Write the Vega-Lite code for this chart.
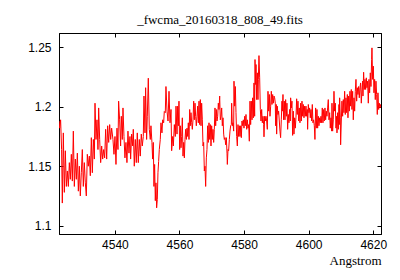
{
"$schema": "https://vega.github.io/schema/vega-lite/v6.json",
"width": 322, "height": 201,
"autosize": {"type": "none"},
"padding": {"left": 59, "top": 33, "right": 19, "bottom": 46},
"background": "white",
"title": {"text": "_fwcma_20160318_808_49.fits", "font": "Liberation Serif", "fontSize": 13, "fontWeight": "normal", "color": "black", "offset": 6},
"config": {
  "view": {"stroke": "black", "strokeWidth": 1},
  "axis": {"grid": false, "domainColor": "black", "domainWidth": 1, "tickColor": "black", "tickWidth": 1, "tickSize": -4, "labelColor": "black", "labelFont": "Liberation Sans", "labelFontSize": 12, "titleFont": "Liberation Serif", "titleFontSize": 13, "titleFontWeight": "normal", "titleColor": "black"}
},
"data": {"values": [
{"w":4522.7,"f":1.188},{"w":4522.9,"f":1.182},{"w":4523.2,"f":1.189},{"w":4523.5,"f":1.164},{"w":4523.73,"f":1.119},{"w":4524.04,"f":1.178},{"w":4524.35,"f":1.128},{"w":4524.66,"f":1.163},{"w":4524.97,"f":1.133},{"w":4525.28,"f":1.146},{"w":4525.59,"f":1.133},{"w":4525.9,"f":1.153},{"w":4526.21,"f":1.139},{"w":4526.52,"f":1.16},{"w":4526.83,"f":1.1375},{"w":4527.14,"f":1.1795},{"w":4527.45,"f":1.133},{"w":4527.76,"f":1.156},{"w":4528.07,"f":1.139},{"w":4528.38,"f":1.161},{"w":4528.69,"f":1.129},{"w":4529.0,"f":1.15},{"w":4529.3,"f":1.125},{"w":4529.61,"f":1.1445},{"w":4529.92,"f":1.164},{"w":4530.23,"f":1.133},{"w":4530.54,"f":1.153},{"w":4530.85,"f":1.136},{"w":4531.16,"f":1.125},{"w":4531.47,"f":1.16},{"w":4531.78,"f":1.15},{"w":4532.09,"f":1.1585},{"w":4532.4,"f":1.142},{"w":4532.71,"f":1.174},{"w":4533.02,"f":1.1445},{"w":4533.33,"f":1.1725},{"w":4533.64,"f":1.156},{"w":4533.85,"f":1.203},{"w":4534.16,"f":1.1725},{"w":4534.46,"f":1.189},{"w":4534.77,"f":1.164},{"w":4534.98,"f":1.199},{"w":4535.29,"f":1.1725},{"w":4535.6,"f":1.153},{"w":4535.91,"f":1.167},{"w":4536.22,"f":1.156},{"w":4536.53,"f":1.164},{"w":4536.84,"f":1.157},{"w":4537.15,"f":1.181},{"w":4537.46,"f":1.156},{"w":4537.77,"f":1.184},{"w":4538.08,"f":1.17},{"w":4538.39,"f":1.185},{"w":4538.7,"f":1.1725},{"w":4539.0,"f":1.182},
{"w":4539.41,"f":1.1725},{"w":4539.72,"f":1.16},{"w":4540.03,"f":1.175},{"w":4540.34,"f":1.1515},{"w":4540.65,"f":1.182},{"w":4540.96,"f":1.164},{"w":4541.16,"f":1.2047},{"w":4541.47,"f":1.189},{"w":4541.78,"f":1.167},{"w":4541.99,"f":1.192},{"w":4542.3,"f":1.1725},{"w":4542.51,"f":1.199},{"w":4542.82,"f":1.175},{"w":4543.12,"f":1.157},{"w":4543.43,"f":1.17},{"w":4543.74,"f":1.153},{"w":4544.05,"f":1.1795},{"w":4544.36,"f":1.161},{"w":4544.67,"f":1.175},{"w":4544.88,"f":1.156},{"w":4545.19,"f":1.177},{"w":4545.5,"f":1.167},{"w":4545.7,"f":1.181},{"w":4546.01,"f":1.15},{"w":4546.32,"f":1.1725},{"w":4546.63,"f":1.153},{"w":4546.94,"f":1.178},{"w":4547.25,"f":1.153},{"w":4547.56,"f":1.1725},{"w":4547.87,"f":1.1585},{"w":4548.18,"f":1.177},{"w":4548.49,"f":1.167},{"w":4548.8,"f":1.175},{"w":4549.01,"f":1.209},{"w":4549.32,"f":1.178},{"w":4549.52,"f":1.216},{"w":4549.83,"f":1.1725},{"w":4550.04,"f":1.192},{"w":4550.35,"f":1.224},{"w":4550.66,"f":1.181},{"w":4550.97,"f":1.1725},{"w":4551.17,"f":1.184},{"w":4551.48,"f":1.17},{"w":4551.69,"f":1.156},{"w":4551.9,"f":1.17},{"w":4552.1,"f":1.133},{"w":4552.31,"f":1.1515},{"w":4552.52,"f":1.121},{"w":4552.72,"f":1.136},{"w":4552.93,"f":1.115},{"w":4553.14,"f":1.122},{"w":4553.34,"f":1.1445},{"w":4553.55,"f":1.154},{"w":4553.75,"f":1.164},{"w":4554.06,"f":1.1725},{"w":4554.27,"f":1.1865},{"w":4554.58,"f":1.178},{"w":4554.79,"f":1.189},{"w":4555.1,"f":1.1865},{"w":4555.3,"f":1.196},{"w":4555.61,"f":1.195},{"w":4555.82,"f":1.217},
{"w":4556.14,"f":1.1963},{"w":4556.45,"f":1.188},{"w":4556.76,"f":1.213},{"w":4557.07,"f":1.1865},{"w":4557.38,"f":1.1977},{"w":4557.58,"f":1.163},{"w":4557.89,"f":1.175},{"w":4558.1,"f":1.167},{"w":4558.41,"f":1.185},{"w":4558.72,"f":1.175},{"w":4558.93,"f":1.2005},{"w":4559.24,"f":1.177},{"w":4559.44,"f":1.2005},{"w":4559.65,"f":1.184},{"w":4559.85,"f":1.2047},{"w":4560.06,"f":1.164},{"w":4560.27,"f":1.184},{"w":4560.47,"f":1.1655},{"w":4560.68,"f":1.175},{"w":4560.89,"f":1.1907},{"w":4561.09,"f":1.1585},{"w":4561.3,"f":1.17},{"w":4561.51,"f":1.157},{"w":4561.71,"f":1.1725},{"w":4561.92,"f":1.181},{"w":4562.13,"f":1.1725},{"w":4562.33,"f":1.182},{"w":4562.54,"f":1.175},{"w":4562.74,"f":1.1865},{"w":4562.95,"f":1.1725},{"w":4563.16,"f":1.1977},{"w":4563.36,"f":1.184},{"w":4563.57,"f":1.195},{"w":4563.78,"f":1.1865},{"w":4563.98,"f":1.181},{"w":4564.19,"f":1.189},{"w":4564.4,"f":1.2047},{"w":4564.6,"f":1.189},{"w":4564.81,"f":1.203},{"w":4565.01,"f":1.192},{"w":4565.22,"f":1.184},{"w":4565.43,"f":1.192},{"w":4565.63,"f":1.2005},{"w":4565.84,"f":1.1865},{"w":4566.05,"f":1.2047},{"w":4566.25,"f":1.185},{"w":4566.46,"f":1.206},{"w":4566.67,"f":1.184},{"w":4566.87,"f":1.203},{"w":4567.08,"f":1.189},{"w":4567.29,"f":1.167},{"w":4567.49,"f":1.17},{"w":4567.7,"f":1.146},{"w":4567.9,"f":1.15},{"w":4568.11,"f":1.133},{"w":4568.32,"f":1.157},{"w":4568.52,"f":1.164},{"w":4568.73,"f":1.184},{"w":4568.94,"f":1.17},{"w":4569.14,"f":1.1865},{"w":4569.35,"f":1.1725},{"w":4569.56,"f":1.185},{"w":4569.76,"f":1.167},{"w":4569.97,"f":1.184},{"w":4570.17,"f":1.1725},{"w":4570.38,"f":1.181},{"w":4570.59,"f":1.17},{"w":4570.79,"f":1.181},{"w":4571.0,"f":1.199},{"w":4571.21,"f":1.184},{"w":4571.41,"f":1.1977},{"w":4571.62,"f":1.188},{"w":4571.83,"f":1.192},{"w":4572.03,"f":1.203},{"w":4572.24,"f":1.1977},{"w":4572.45,"f":1.209},{"w":4572.65,"f":1.189},
{"w":4572.86,"f":1.192},{"w":4573.07,"f":1.199},{"w":4573.27,"f":1.184},{"w":4573.48,"f":1.1907},{"w":4573.69,"f":1.177},{"w":4573.89,"f":1.1725},{"w":4574.1,"f":1.174},{"w":4574.3,"f":1.168},{"w":4574.51,"f":1.174},{"w":4574.72,"f":1.161},{"w":4574.82,"f":1.1515},{"w":4575.03,"f":1.164},{"w":4575.23,"f":1.163},{"w":4575.44,"f":1.1725},{"w":4575.65,"f":1.1795},{"w":4575.85,"f":1.184},{"w":4576.06,"f":1.185},{"w":4576.16,"f":1.203},{"w":4576.37,"f":1.184},{"w":4576.57,"f":1.1865},{"w":4576.78,"f":1.1795},{"w":4576.88,"f":1.2215},{"w":4577.09,"f":1.2005},{"w":4577.3,"f":1.217},{"w":4577.5,"f":1.195},{"w":4577.71,"f":1.175},{"w":4577.92,"f":1.167},{"w":4578.12,"f":1.185},{"w":4578.33,"f":1.175},{"w":4578.54,"f":1.184},{"w":4578.74,"f":1.175},{"w":4578.95,"f":1.184},{"w":4579.15,"f":1.174},{"w":4579.36,"f":1.188},{"w":4579.57,"f":1.184},{"w":4579.77,"f":1.189},{"w":4579.98,"f":1.182},{"w":4580.19,"f":1.192},{"w":4580.39,"f":1.184},{"w":4580.6,"f":1.1935},{"w":4580.81,"f":1.181},{"w":4581.01,"f":1.189},{"w":4581.22,"f":1.182},{"w":4581.43,"f":1.185},{"w":4581.63,"f":1.171},{"w":4581.84,"f":1.2047},{"w":4582.04,"f":1.185},{"w":4582.25,"f":1.2047},{"w":4582.46,"f":1.189},{"w":4582.66,"f":1.2075},{"w":4582.87,"f":1.1907},{"w":4583.08,"f":1.22},{"w":4583.28,"f":1.192},{"w":4583.39,"f":1.2397},{"w":4583.59,"f":1.2187},{"w":4583.7,"f":1.2355},{"w":4583.9,"f":1.206},{"w":4584.11,"f":1.2285},{"w":4584.31,"f":1.206},{"w":4584.42,"f":1.223},{"w":4584.62,"f":1.243},{"w":4584.83,"f":1.2243},{"w":4585.04,"f":1.1977},{"w":4585.24,"f":1.188},{"w":4585.45,"f":1.1977},{"w":4585.66,"f":1.1865},{"w":4585.86,"f":1.192},{"w":4586.07,"f":1.185},{"w":4586.17,"f":1.1747},{"w":4586.38,"f":1.192},{"w":4586.59,"f":1.188},{"w":4586.79,"f":1.192},{"w":4587.0,"f":1.188},{"w":4587.2,"f":1.181},{"w":4587.41,"f":1.213},{"w":4587.62,"f":1.1963},{"w":4587.82,"f":1.2103},{"w":4588.03,"f":1.192},{"w":4588.24,"f":1.2005},{"w":4588.44,"f":1.213},{"w":4588.65,"f":1.2019},{"w":4588.86,"f":1.2103},{"w":4589.06,"f":1.203},{"w":4589.27,"f":1.209},
{"w":4589.47,"f":1.2075},{"w":4589.67,"f":1.203},{"w":4589.78,"f":1.184},{"w":4589.98,"f":1.2019},{"w":4590.09,"f":1.177},{"w":4590.29,"f":1.2005},{"w":4590.5,"f":1.1935},{"w":4590.7,"f":1.1963},{"w":4590.91,"f":1.188},{"w":4591.12,"f":1.1795},{"w":4591.32,"f":1.174},{"w":4591.53,"f":1.189},{"w":4591.74,"f":1.2047},{"w":4591.84,"f":1.1963},{"w":4592.05,"f":1.2103},{"w":4592.25,"f":1.189},{"w":4592.46,"f":1.2047},{"w":4592.67,"f":1.189},{"w":4592.87,"f":1.206},{"w":4593.08,"f":1.192},{"w":4593.28,"f":1.203},{"w":4593.49,"f":1.181},{"w":4593.7,"f":1.1935},{"w":4593.9,"f":1.1865},{"w":4594.11,"f":1.1977},{"w":4594.32,"f":1.188},{"w":4594.42,"f":1.2075},{"w":4594.63,"f":1.199},{"w":4594.83,"f":1.2047},{"w":4595.04,"f":1.1759},{"w":4595.25,"f":1.1963},{"w":4595.45,"f":1.177},{"w":4595.66,"f":1.1907},{"w":4595.86,"f":1.182},{"w":4596.07,"f":1.1907},{"w":4596.28,"f":1.2067},{"w":4596.48,"f":1.1935},{"w":4596.69,"f":1.2047},{"w":4596.9,"f":1.188},{"w":4597.1,"f":1.199},{"w":4597.31,"f":1.1865},{"w":4597.52,"f":1.203},{"w":4597.72,"f":1.188},{"w":4597.93,"f":1.2047},{"w":4598.14,"f":1.192},{"w":4598.34,"f":1.2019},{"w":4598.55,"f":1.1907},{"w":4598.75,"f":1.2005},{"w":4598.96,"f":1.192},{"w":4599.17,"f":1.2005},{"w":4599.37,"f":1.192},{"w":4599.58,"f":1.1977},{"w":4599.68,"f":1.181},{"w":4599.89,"f":1.2019},{"w":4600.1,"f":1.195},{"w":4600.3,"f":1.199},{"w":4600.51,"f":1.1907},{"w":4600.72,"f":1.1977},{"w":4600.92,"f":1.188},{"w":4601.13,"f":1.2019},{"w":4601.33,"f":1.1865},{"w":4601.54,"f":1.189},{"w":4601.75,"f":1.184},{"w":4601.95,"f":1.1725},{"w":4602.16,"f":1.199},{"w":4602.37,"f":1.182},{"w":4602.57,"f":1.1977},{"w":4602.78,"f":1.182},{"w":4602.99,"f":1.192},{"w":4603.19,"f":1.184},{"w":4603.4,"f":1.1907},{"w":4603.6,"f":1.1865},{"w":4603.81,"f":1.192},{"w":4604.02,"f":1.1865},{"w":4604.22,"f":1.199},{"w":4604.43,"f":1.1865},{"w":4604.64,"f":1.1977},{"w":4604.84,"f":1.188},{"w":4605.05,"f":1.199},{"w":4605.26,"f":1.189},{"w":4605.46,"f":1.1963},{"w":4605.67,"f":1.192},{"w":4605.87,"f":1.199},{"w":4606.08,"f":1.206},{"w":4606.29,"f":1.189},
{"w":4606.5,"f":1.195},{"w":4606.7,"f":1.182},{"w":4606.91,"f":1.1907},{"w":4607.12,"f":1.1795},{"w":4607.22,"f":1.203},{"w":4607.42,"f":1.1795},{"w":4607.63,"f":1.189},{"w":4607.84,"f":1.213},{"w":4608.04,"f":1.1963},{"w":4608.25,"f":1.203},{"w":4608.46,"f":1.182},{"w":4608.66,"f":1.192},{"w":4608.77,"f":1.178},{"w":4608.97,"f":1.195},{"w":4609.18,"f":1.181},{"w":4609.39,"f":1.2019},{"w":4609.49,"f":1.185},{"w":4609.59,"f":1.2075},{"w":4609.8,"f":1.1907},{"w":4609.9,"f":1.168},{"w":4610.11,"f":1.188},{"w":4610.31,"f":1.2047},{"w":4610.52,"f":1.192},{"w":4610.73,"f":1.206},{"w":4610.93,"f":1.195},{"w":4611.14,"f":1.213},{"w":4611.35,"f":1.1935},{"w":4611.55,"f":1.2075},{"w":4611.76,"f":1.195},{"w":4611.97,"f":1.2103},{"w":4612.17,"f":1.1907},{"w":4612.38,"f":1.209},{"w":4612.58,"f":1.1963},{"w":4612.79,"f":1.213},{"w":4613.0,"f":1.2005},{"w":4613.2,"f":1.2145},{"w":4613.41,"f":1.1977},{"w":4613.62,"f":1.213},{"w":4613.82,"f":1.189},{"w":4614.03,"f":1.2075},{"w":4614.24,"f":1.1963},{"w":4614.44,"f":1.213},{"w":4614.65,"f":1.223},{"w":4614.86,"f":1.2047},{"w":4615.06,"f":1.216},{"w":4615.27,"f":1.2103},{"w":4615.47,"f":1.217},{"w":4615.68,"f":1.2075},{"w":4615.89,"f":1.216},{"w":4616.09,"f":1.22},{"w":4616.3,"f":1.203},{"w":4616.51,"f":1.2145},{"w":4616.71,"f":1.2215},{"w":4616.82,"f":1.209},{"w":4617.02,"f":1.229},{"w":4617.23,"f":1.2145},{"w":4617.44,"f":1.223},{"w":4617.64,"f":1.2145},{"w":4617.85,"f":1.2243},{"w":4618.05,"f":1.216},{"w":4618.26,"f":1.2215},{"w":4618.47,"f":1.203},{"w":4618.67,"f":1.223},{"w":4618.88,"f":1.2117},{"w":4619.09,"f":1.2285},{"w":4619.29,"f":1.217},{"w":4619.5,"f":1.2397},{"w":4619.6,"f":1.2495},{"w":4619.81,"f":1.223},{"w":4620.02,"f":1.2341},{"w":4620.22,"f":1.2117},{"w":4620.43,"f":1.223},{"w":4620.63,"f":1.206},{"w":4620.84,"f":1.2215},{"w":4621.05,"f":1.2103},{"w":4621.25,"f":1.1935},{"w":4621.46,"f":1.2117},{"w":4621.67,"f":1.1977},{"w":4621.87,"f":1.203},{"w":4622.08,"f":1.199},{"w":4622.29,"f":1.2019},{"w":4622.49,"f":1.199}
]},
"encoding": {
  "x": {"field": "w", "type": "quantitative", "scale": {"domain": [4522.7, 4622.4], "nice": false, "zero": false}},
  "y": {"field": "f", "type": "quantitative", "scale": {"domain": [1.093, 1.262], "nice": false, "zero": false}}
},
"layer": [
  {"mark": {"type": "line", "color": "#ff0000", "strokeWidth": 1, "clip": true},
   "encoding": {
     "x": {"field": "w", "type": "quantitative", "axis": {"orient": "bottom", "values": [4540, 4560, 4580, 4600, 4620], "format": "d", "labelPadding": 9, "title": "Angstrom", "titleAnchor": "end", "titleAlign": "right", "titlePadding": 4}},
     "y": {"field": "f", "type": "quantitative", "axis": {"orient": "left", "values": [1.1, 1.15, 1.2, 1.25], "format": ".2~f", "labelPadding": 12, "title": null}}
   }},
  {"mark": {"type": "line", "opacity": 0, "clip": true},
   "encoding": {
     "x": {"field": "w", "type": "quantitative", "axis": {"orient": "top", "values": [4540, 4560, 4580, 4600, 4620], "labels": false, "title": null}},
     "y": {"field": "f", "type": "quantitative", "axis": {"orient": "right", "values": [1.1, 1.15, 1.2, 1.25], "labels": false, "title": null}}
   }}
],
"resolve": {"axis": {"x": "independent", "y": "independent"}}
}
